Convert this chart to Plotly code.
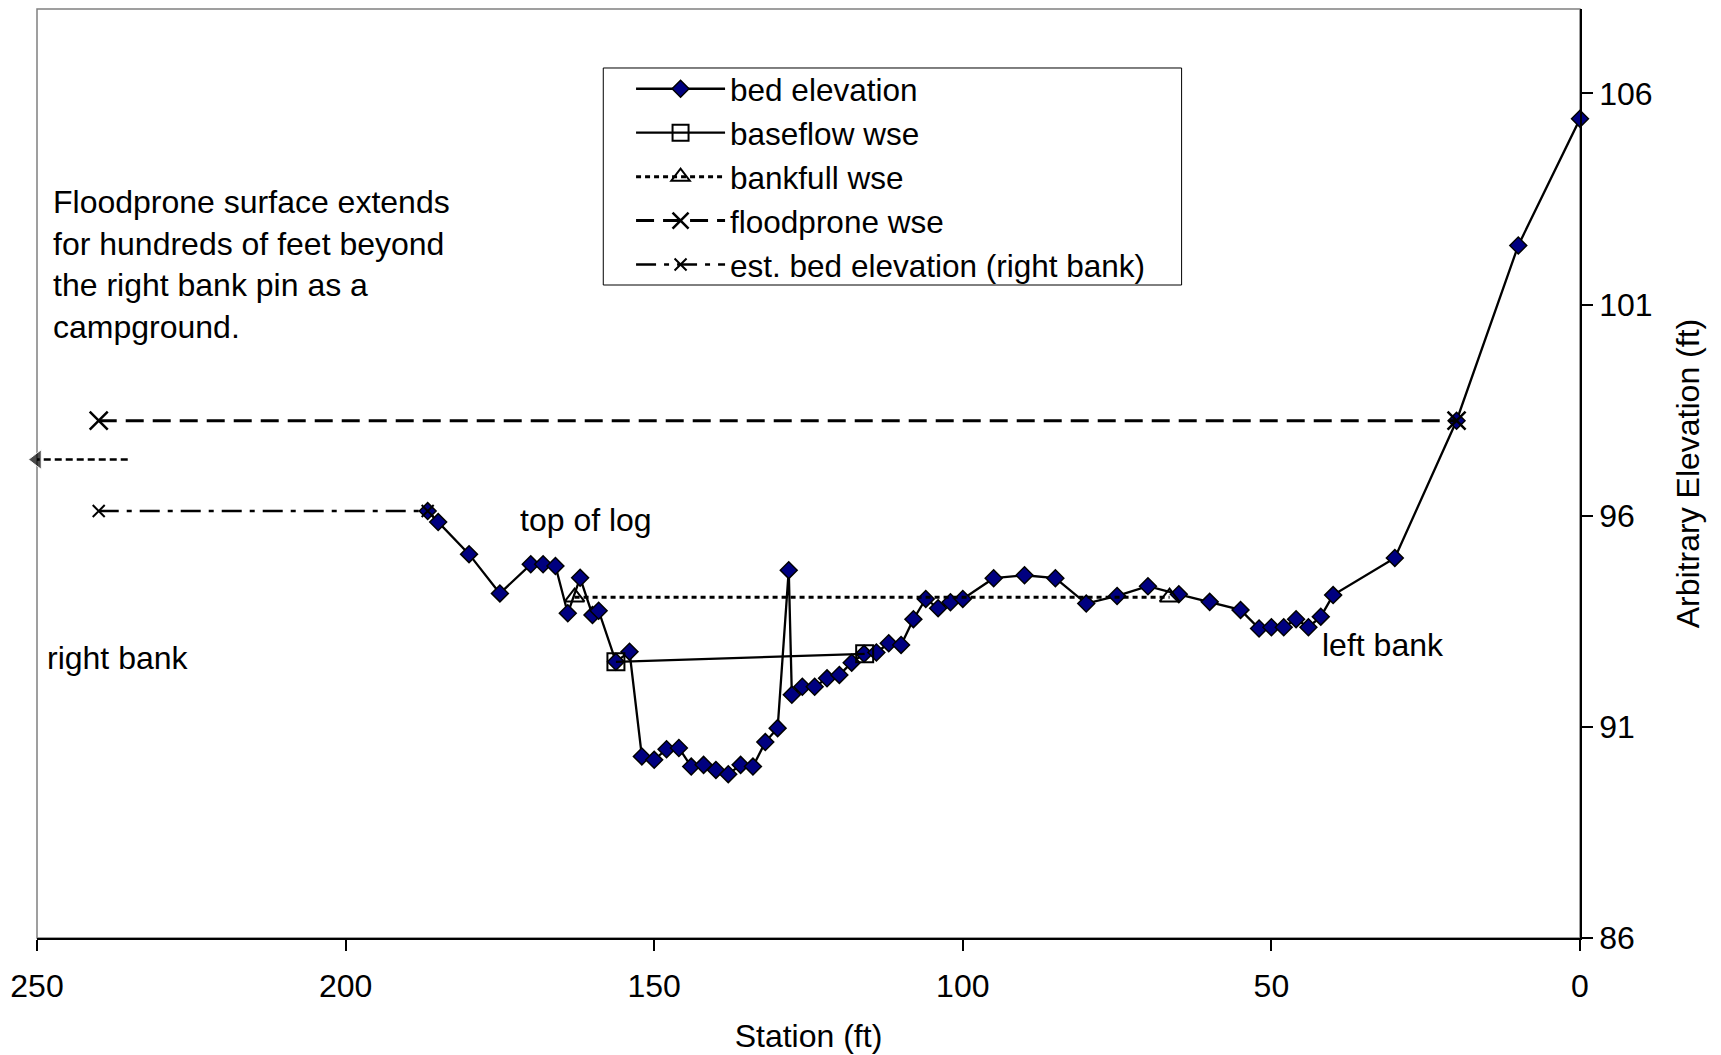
import plotly.graph_objects as go

# ---- data ----
bed_station = [186.7, 185, 180, 175, 170, 168, 166, 164, 162, 160, 159, 156.2, 154, 152, 150,
               148, 146, 144, 142, 140, 138, 136, 134, 132, 130, 128.2, 127.7, 126, 124, 122,
               120, 118, 116, 114, 112, 110, 108, 106, 104, 102, 100, 95, 90, 85, 80,
               75, 70, 65, 60, 55, 52, 50, 48, 46, 44, 42, 40, 30, 20, 10, 0]
bed_elev = [96.11, 95.85, 95.09, 94.16, 94.85, 94.85, 94.81, 93.69, 94.53, 93.65, 93.75, 92.54, 92.78, 90.30, 90.22,
            90.47, 90.50, 90.06, 90.10, 89.98, 89.88, 90.10, 90.06, 90.64, 90.97, 94.71, 91.76, 91.95, 91.95, 92.15,
            92.23, 92.52, 92.73, 92.76, 92.98, 92.94, 93.55, 94.03, 93.81, 93.95, 94.03, 94.52, 94.59, 94.52, 93.92,
            94.10, 94.33, 94.14, 93.96, 93.77, 93.33, 93.36, 93.36, 93.55, 93.36, 93.61, 94.12, 95.0, 98.25, 102.4, 105.4]

baseflow_station = [156.2, 115.9]
baseflow_elev = [92.54, 92.73]

bankfull_station = [162.9, 66.5]
bankfull_elev = [94.07, 94.07]

floodprone_station = [240, 20]
floodprone_elev = [98.25, 98.25]

estbed_station = [240, 186.7]
estbed_elev = [96.11, 96.11]

arrow_station = [235.3, 250]
arrow_elev = [97.33, 97.33]

x_ticks = [250, 200, 150, 100, 50, 0]
y_ticks = [86, 91, 96, 101, 106]

FONT = "Liberation Sans, Arial, sans-serif"
FS = 32

fig = go.Figure()

fig.add_trace(go.Scatter(
    x=bed_station, y=bed_elev, mode="lines+markers", name="bed elevation",
    line=dict(color="black", width=2.3),
    marker=dict(symbol="diamond", size=13, color="#000080", line=dict(color="black", width=1.5)),
    cliponaxis=False))

fig.add_trace(go.Scatter(
    x=baseflow_station, y=baseflow_elev, mode="lines+markers", name="baseflow wse",
    line=dict(color="black", width=2.2),
    marker=dict(symbol="square-open", size=17, color="black", line=dict(color="black", width=2))))

fig.add_trace(go.Scatter(
    x=bankfull_station, y=bankfull_elev, mode="lines+markers", name="bankfull wse",
    line=dict(color="black", width=3, dash="5px,4px"),
    marker=dict(symbol="triangle-up-open", size=17, color="black", line=dict(color="black", width=2))))

fig.add_trace(go.Scatter(
    x=floodprone_station, y=floodprone_elev, mode="lines+markers", name="floodprone wse",
    line=dict(color="black", width=3, dash="18px,9px"),
    marker=dict(symbol="x-thin-open", size=18, color="black", line=dict(color="black", width=2.5))))

fig.add_trace(go.Scatter(
    x=estbed_station, y=estbed_elev, mode="lines+markers", name="est. bed elevation (right bank)",
    line=dict(color="black", width=2.5, dash="20px,8px,5px,8px"),
    marker=dict(symbol="x-thin-open", size=12, color="black", line=dict(color="black", width=2))))

fig.add_trace(go.Scatter(
    x=arrow_station, y=arrow_elev, mode="lines+markers", showlegend=False,
    line=dict(color="black", width=2.5, dash="7px,4px"),
    marker=dict(symbol="triangle-left", size=[0, 17], color="black"),
    cliponaxis=False, hoverinfo="skip"))

fig.update_layout(
    width=1721, height=1055,
    margin=dict(l=29, r=148.5, t=1, b=124.5, autoexpand=False),
    paper_bgcolor="white", plot_bgcolor="white",
    font=dict(family=FONT, size=FS, color="black"),
    showlegend=True,
    legend=dict(x=0.385, y=0.9432, xanchor="left", yanchor="top",
                borderwidth=0, bgcolor="rgba(0,0,0,0)",
                font=dict(family=FONT, size=31.5), itemwidth=89,
                tracegroupgap=0),
    xaxis=dict(range=[250, 0], tickvals=x_ticks, ticks="outside", ticklen=11, tickwidth=1.5,
               tickcolor="black", showline=True, linecolor="black", linewidth=1.5,
               showgrid=False, zeroline=False, ticklabelstandoff=8,
               tickfont=dict(family=FONT, size=FS),
               title=dict(text="Station (ft)", font=dict(family=FONT, size=FS), standoff=21)),
    yaxis=dict(range=[86, 108], tickvals=y_ticks, side="right", ticks="outside", ticklen=11,
               tickwidth=1.5, tickcolor="black", showline=True, linecolor="black", linewidth=1.5,
               showgrid=False, zeroline=False,
               tickfont=dict(family=FONT, size=FS),
               title=dict(text="Arbitrary Elevation (ft)", font=dict(family=FONT, size=FS), standoff=25)),
    shapes=[
        dict(type="rect", xref="paper", yref="paper", x0=0, y0=0, x1=1, y1=1,
             line=dict(color="#808080", width=1.5), layer="below"),
        dict(type="rect", xref="paper", yref="paper", x0=0.367, y0=0.7029, x1=0.7418, y1=0.9365,
             line=dict(color="black", width=1), fillcolor="white", layer="below"),
    ],
    annotations=[
        dict(x=247.7, y=101.96, xref="x", yref="y", xanchor="left", yanchor="middle", align="left",
             showarrow=False, font=dict(family=FONT, size=FS),
             text="Floodprone surface extends<br>for hundreds of feet beyond<br>the right bank pin as a<br>campground."),
        dict(x=161.1, y=95.89, xref="x", yref="y", xanchor="center", yanchor="middle",
             showarrow=False, font=dict(family=FONT, size=FS), text="top of log"),
        dict(x=236.8, y=92.62, xref="x", yref="y", xanchor="center", yanchor="middle",
             showarrow=False, font=dict(family=FONT, size=FS), text="right bank"),
        dict(x=32.0, y=92.94, xref="x", yref="y", xanchor="center", yanchor="middle",
             showarrow=False, font=dict(family=FONT, size=FS), text="left bank"),
    ],
)

fig.write_html("out.html")
